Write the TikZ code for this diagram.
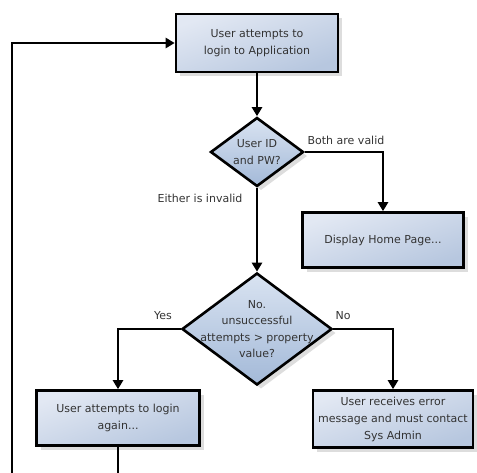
\documentclass[tikz,border=0pt]{standalone}
\usepackage{fontspec}
\setmainfont{DejaVu Sans}
\usetikzlibrary{shapes.geometric,arrows.meta,shadows}
\definecolor{boxtop}{HTML}{E2E8F3}
\definecolor{boxbot}{HTML}{B7C7DF}
\definecolor{diatop}{HTML}{D9E3F1}
\definecolor{diabot}{HTML}{A3B9D8}
\definecolor{txt}{HTML}{333333}
\tikzset{
  softshadow/.style={drop shadow={shadow xshift=4pt,shadow yshift=-4pt,opacity=0.22,fill=black!60}},
  procbox/.style={rectangle,draw=black,line width=2.6pt,top color=boxtop,bottom color=boxbot,
    shading angle=20,softshadow,align=center,text=txt,font=\fontsize{11}{17}\selectfont,inner sep=2pt},
  decbox/.style={diamond,draw=black,line width=2.6pt,top color=diatop,bottom color=diabot,
    softshadow,inner sep=0pt},
  dectext/.style={align=center,text=txt,font=\fontsize{11}{16.5}\selectfont},
  flow/.style={line width=2.6pt,-{Triangle[length=9pt,width=10pt]}},
  edgelbl/.style={text=txt,font=\fontsize{11}{13}\selectfont},
}
\begin{document}
\begin{tikzpicture}[x=1pt,y=-1pt]
  \useasboundingbox (0,0) rectangle (477,472);

  % process steps
  \node[procbox,minimum width=162pt,minimum height=58pt] (login) at (257,43)
    {User attempts to\\login to Application};
  \node[procbox,minimum width=161pt,minimum height=55pt] (home) at (383,240)
    {Display Home Page...};
  \node[procbox,minimum width=163pt,minimum height=55pt] (retry) at (118,418)
    {User attempts to login\\again...};
  \node[procbox,minimum width=160pt,minimum height=57pt] (error) at (393,419)
    {User receives error\\message and must contact\\Sys Admin};

  % decisions
  \node[decbox,minimum width=93pt,minimum height=69pt] (check) at (257,152) {};
  \node[dectext] (checkt) at (check.center) {User ID\\and PW?};
  \node[decbox,minimum width=150pt,minimum height=112pt] (count) at (257,329) {};
  \node[dectext] (countt) at (count.center) {No.\\unsuccessful\\attempts > property\\value?};

  % connectors
  \draw[flow] (login.south) -- (check.north);
  \draw[flow] (check.east) -| (home.north);
  \draw[flow] (check.south) -- (count.north);
  \draw[flow] (count.west) -| (retry.north);
  \draw[flow] (count.east) -| (error.north);

  % loop back to the login step
  \coordinate (loopa) at (118,492);
  \coordinate (loopb) at (12,492);
  \draw[flow] (retry.south) -- (loopa) -- (loopb) |- (login.west);

  % branch labels
  \node[edgelbl] (lvalid) at (346,140) {Both are valid};
  \node[edgelbl] (linvalid) at (200,198) {Either is invalid};
  \node[edgelbl] (lyes) at (163,316) {Yes};
  \node[edgelbl] (lno) at (343,316) {No};
\end{tikzpicture}
\end{document}
